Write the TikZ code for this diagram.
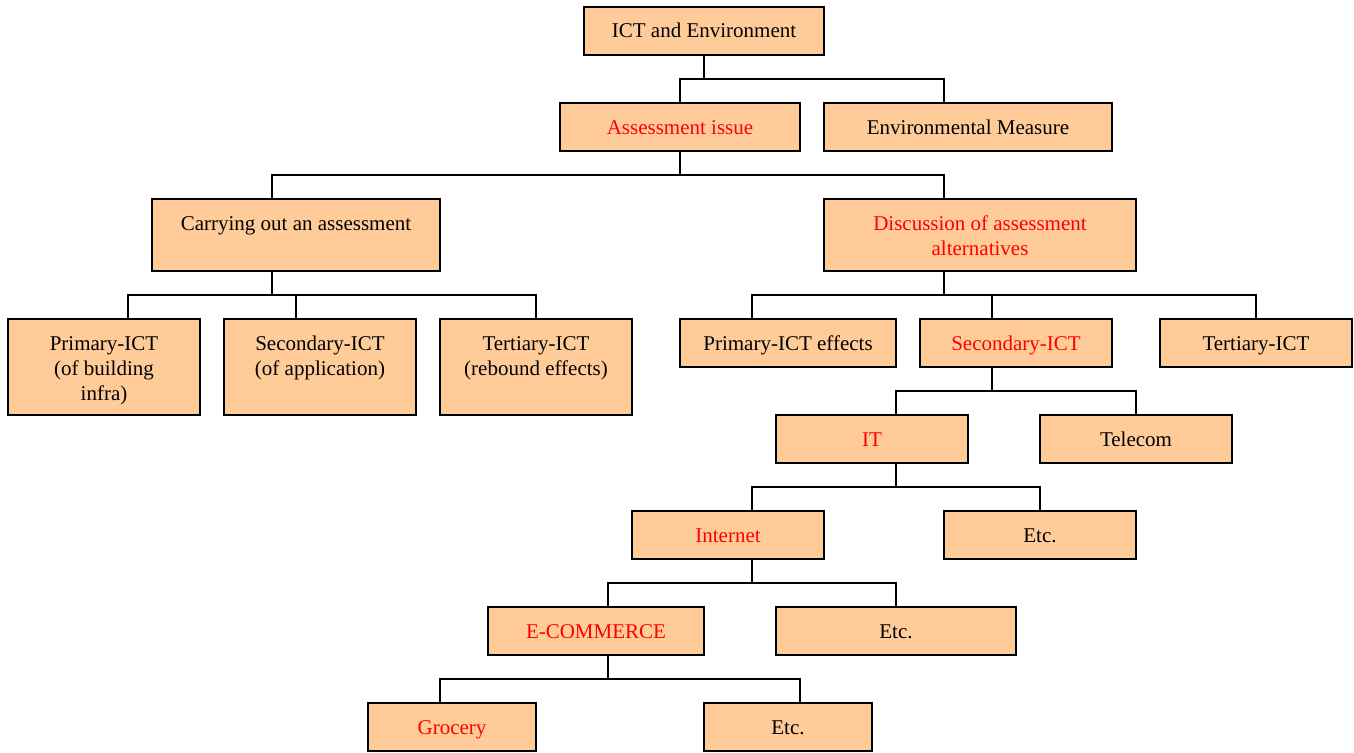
\documentclass[tikz,border=0pt]{standalone}
\usepackage{fontspec}
\setmainfont{Liberation Serif}
\usetikzlibrary{calc}
\definecolor{boxfill}{HTML}{FFCC99}
\definecolor{hltext}{HTML}{FF0000}
% highlighted (red) label text
\newcommand\hl[1]{{\color{hltext}#1}}
% tree box: name, left, top, right, bottom, label (text hangs from the top edge)
\newcommand\treebox[6]{%
  \pgfmathsetmacro\bw{#4-#2}%
  \pgfmathsetmacro\bh{#5-#3}%
  \node[tbox, anchor=north west, minimum width=\bw pt, minimum height=\bh pt] (#1) at (#2,#3)
    {\parbox[c][\bh pt][t]{\bw pt}{\centering\rule{0pt}{31pt}#6}};%
}
\begin{document}
\begin{tikzpicture}[x=1pt, y=-1pt,
  tbox/.style={draw=black, fill=boxfill, line width=2pt, inner sep=0pt, outer sep=0pt,
    font=\fontsize{21}{25}\selectfont},
  conn/.style={draw=black, line width=2pt}]
\useasboundingbox (0,0) rectangle (1354,752);

% boxes
\treebox{ict}{584}{7}{824}{55}{ICT and Environment}
\treebox{assess}{560}{103}{800}{151}{\hl{Assessment issue}}
\treebox{env}{824}{103}{1112}{151}{Environmental Measure}
\treebox{carry}{152}{199}{440}{271}{Carrying out an assessment}
\treebox{disc}{824}{199}{1136}{271}{\hl{Discussion of assessment\\alternatives}}
\treebox{prim}{8}{319}{200}{415}{Primary-ICT\\(of building\\infra)}
\treebox{sec}{224}{319}{416}{415}{Secondary-ICT\\(of application)}
\treebox{ter}{440}{319}{632}{415}{Tertiary-ICT\\(rebound effects)}
\treebox{pe}{680}{319}{896}{367}{Primary-ICT effects}
\treebox{se}{920}{319}{1112}{367}{\hl{Secondary-ICT}}
\treebox{te}{1160}{319}{1352}{367}{Tertiary-ICT}
\treebox{it}{776}{415}{968}{463}{\hl{IT}}
\treebox{tel}{1040}{415}{1232}{463}{Telecom}
\treebox{inet}{632}{511}{824}{559}{\hl{Internet}}
\treebox{etcA}{944}{511}{1136}{559}{Etc.}
\treebox{ecom}{488}{607}{704}{655}{\hl{E-COMMERCE}}
\treebox{etcB}{776}{607}{1016}{655}{Etc.}
\treebox{groc}{368}{703}{536}{751}{\hl{Grocery}}
\treebox{etcC}{704}{703}{872}{751}{Etc.}

% connectors
\draw[conn] (ict.south) -- ++(0,24) coordinate (j0);
\draw[conn] (assess.north) |- (j0) -| ($(env.north)+(-24,0)$);

\draw[conn] (assess.south) -- ++(0,24) coordinate (j1);
\draw[conn] ($(carry.north)+(-24,0)$) |- (j1) -| ($(disc.north)+(-36,0)$);

\draw[conn] ($(carry.south)+(-24,0)$) -- ++(0,24) coordinate (j2);
\draw[conn] ($(prim.north)+(24,0)$) |- (j2) -| (ter.north);
\coordinate (s2) at ($(sec.north)+(-24,0)$);
\draw[conn] (s2) -- (s2 |- j2);

\draw[conn] ($(disc.south)+(-36,0)$) -- ++(0,24) coordinate (j3);
\draw[conn] ($(pe.north)+(-36,0)$) |- (j3) -| (te.north);
\coordinate (s3) at ($(se.north)+(-24,0)$);
\draw[conn] (s3) -- (s3 |- j3);

\draw[conn] ($(se.south)+(-24,0)$) -- ++(0,24) coordinate (j4);
\draw[conn] ($(it.north)+(24,0)$) |- (j4) -| (tel.north);

\draw[conn] ($(it.south)+(24,0)$) -- ++(0,24) coordinate (j5);
\draw[conn] ($(inet.north)+(24,0)$) |- (j5) -| (etcA.north);

\draw[conn] ($(inet.south)+(24,0)$) -- ++(0,24) coordinate (j6);
\draw[conn] ($(ecom.north)+(12,0)$) |- (j6) -| (etcB.north);

\draw[conn] ($(ecom.south)+(12,0)$) -- ++(0,24) coordinate (j7);
\draw[conn] ($(groc.north)+(-12,0)$) |- (j7) -| ($(etcC.north)+(12,0)$);
\end{tikzpicture}
\end{document}
